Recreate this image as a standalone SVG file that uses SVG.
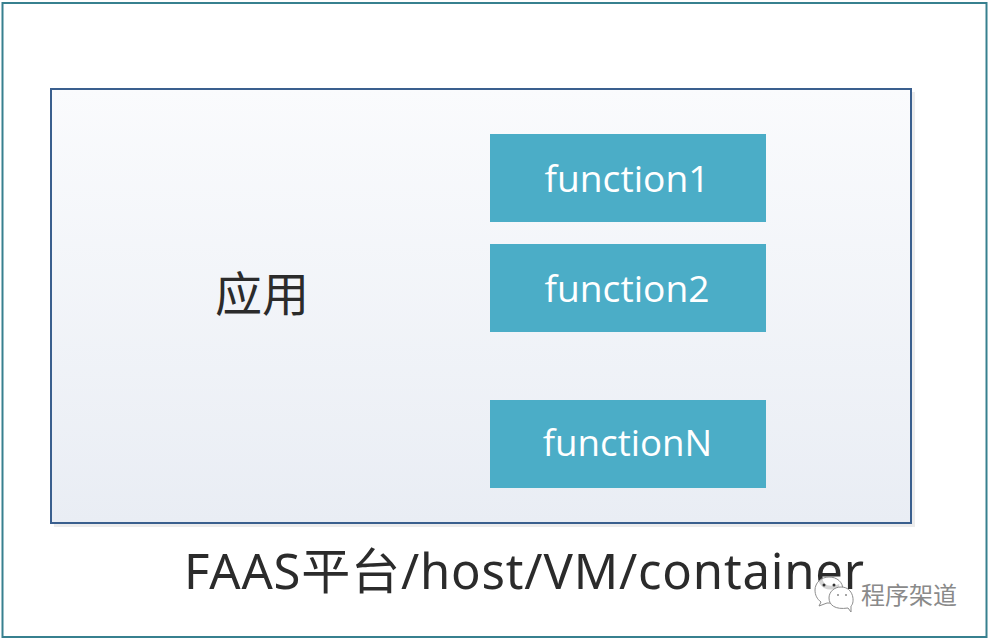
<svg xmlns="http://www.w3.org/2000/svg" width="988" height="638" viewBox="0 0 988 638">
<style>
.fn{fill:#4badc7}
.fl{font-family:"Open Sans","Noto Sans",sans-serif;font-size:37.2px;fill:#fff;text-anchor:middle}
.dk{fill:#2b2b2b;font-family:"Noto Sans","Noto Sans CJK SC",sans-serif}
.bubble{fill:#fff;stroke:#8c8c8c;stroke-width:1}
</style>
<defs>
<linearGradient id="g" x1="0" y1="0" x2="0" y2="1">
<stop offset="0" stop-color="#fafbfd"/>
<stop offset="1" stop-color="#e9edf4"/>
</linearGradient>
</defs>
<rect width="988" height="638" fill="#fff"/>
<rect id="frame" x="2.5" y="3" width="984" height="634" fill="#fff" stroke="#37808f" stroke-width="2"/>
<g id="app">
<rect x="54" y="92" width="861" height="435" fill="#ececec"/>
<rect x="51" y="89" width="860" height="434" fill="url(#g)" stroke="#3a5f8e" stroke-width="2"/>
<text class="dk" x="262" y="311" font-size="47" text-anchor="middle" font-family="Noto Sans CJK SC,sans-serif">应用</text>
</g>
<g id="function1"><rect class="fn" x="490" y="134" width="276" height="88"/><text class="fl" x="627" y="192">function1</text></g>
<g id="function2"><rect class="fn" x="490" y="244" width="276" height="88"/><text class="fl" x="627" y="302">function2</text></g>
<g id="functionN"><rect class="fn" x="490" y="400" width="276" height="88"/><text class="fl" x="627.5" y="456" style="font-size:36.7px">functionN</text></g>
<g id="platform"><text class="dk" x="184" y="589" font-size="49" textLength="680" lengthAdjust="spacing">FAAS平台/host/VM/container</text></g>
<g id="watermark">
<path class="bubble" fill-opacity="0.8" d="M821 602 L819 606 L827 603 C836 604 843 598 843 590 C843 582 837 577 829 577 C821 577 815 583 815 590 C815 595 817 599 821 602 Z"/>
<path class="bubble" d="M848 608 L851 612 L851 606 C855 603 854 587 841 587 C834 587 829 592 829 598 C829 605 835 610 848 608 Z"/>
<circle cx="824" cy="585" r="1.5" fill="#333"/><circle cx="834" cy="585" r="1.5" fill="#333"/>
<circle cx="838" cy="595" r="1" fill="#888"/><circle cx="846" cy="595" r="1" fill="#888"/>
<text x="861" y="604" font-size="24" fill="#8a8a8a" font-family="Noto Sans CJK SC,sans-serif">程序架道</text>
</g>
</svg>
